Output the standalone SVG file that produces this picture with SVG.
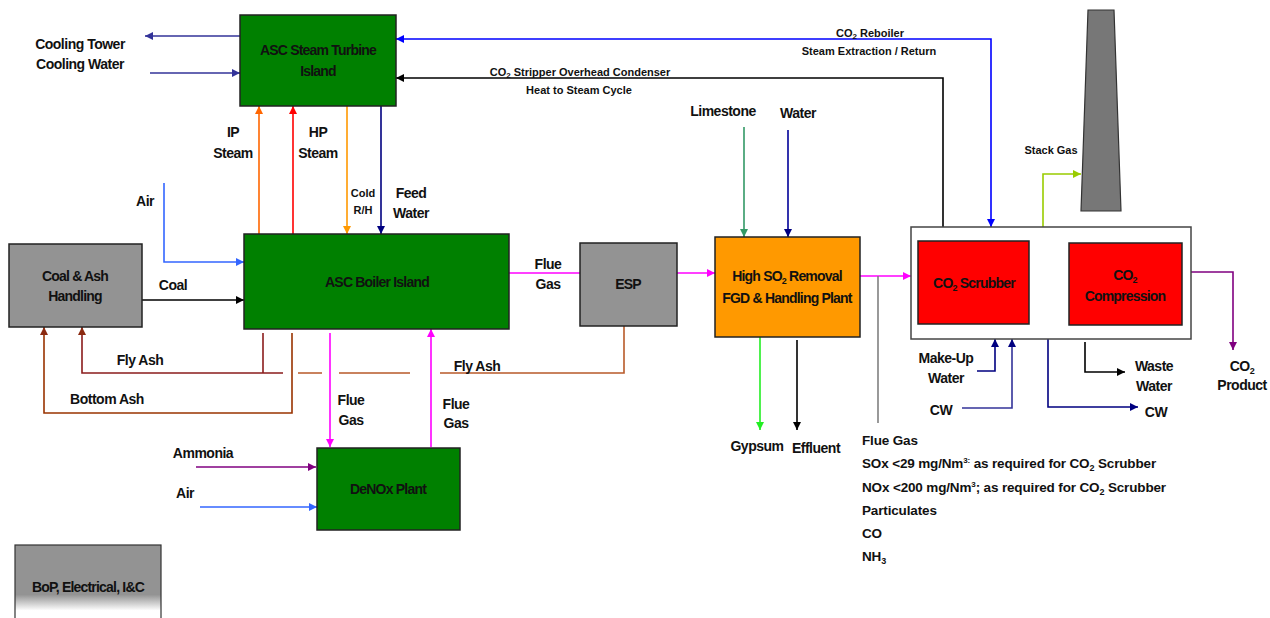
<svg xmlns="http://www.w3.org/2000/svg" width="1270" height="618" viewBox="0 0 1270 618">
<style>
text{font-family:"Liberation Sans",Arial,sans-serif;font-weight:bold;fill:#111;}
.t{font-size:14px;letter-spacing:-0.5px;}
.f{font-size:13.5px;letter-spacing:-0.15px;}
.b{font-size:14px;letter-spacing:-0.8px;text-anchor:middle;}
.s{font-size:11px;}
.m{text-anchor:middle;}
.c{fill:none;stroke-width:1.6;}
.box{stroke:#222;stroke-width:1.5;}
</style>
<defs>
<linearGradient id="bopg" x1="0" y1="0" x2="0" y2="1">
<stop offset="0" stop-color="#939393"/><stop offset="0.62" stop-color="#939393"/><stop offset="0.82" stop-color="#ffffff"/><stop offset="1" stop-color="#ffffff"/>
</linearGradient>
<marker id="a333399" viewBox="0 0 10 10" refX="10" refY="5" markerWidth="9" markerHeight="8" markerUnits="userSpaceOnUse" orient="auto-start-reverse"><path d="M0,0L10,5L0,10z" fill="#333399"/></marker>
<marker id="a0000FF" viewBox="0 0 10 10" refX="10" refY="5" markerWidth="9" markerHeight="8" markerUnits="userSpaceOnUse" orient="auto-start-reverse"><path d="M0,0L10,5L0,10z" fill="#0000FF"/></marker>
<marker id="a000" viewBox="0 0 10 10" refX="10" refY="5" markerWidth="9" markerHeight="8" markerUnits="userSpaceOnUse" orient="auto-start-reverse"><path d="M0,0L10,5L0,10z" fill="#000"/></marker>
<marker id="aFF6600" viewBox="0 0 10 10" refX="10" refY="5" markerWidth="9" markerHeight="8" markerUnits="userSpaceOnUse" orient="auto"><path d="M0,0L10,5L0,10z" fill="#FF6600"/></marker>
<marker id="aFF0000" viewBox="0 0 10 10" refX="10" refY="5" markerWidth="9" markerHeight="8" markerUnits="userSpaceOnUse" orient="auto"><path d="M0,0L10,5L0,10z" fill="#FF0000"/></marker>
<marker id="aFF9900" viewBox="0 0 10 10" refX="10" refY="5" markerWidth="9" markerHeight="8" markerUnits="userSpaceOnUse" orient="auto"><path d="M0,0L10,5L0,10z" fill="#FF9900"/></marker>
<marker id="a000080" viewBox="0 0 10 10" refX="10" refY="5" markerWidth="9" markerHeight="8" markerUnits="userSpaceOnUse" orient="auto"><path d="M0,0L10,5L0,10z" fill="#000080"/></marker>
<marker id="a3366FF" viewBox="0 0 10 10" refX="10" refY="5" markerWidth="9" markerHeight="8" markerUnits="userSpaceOnUse" orient="auto"><path d="M0,0L10,5L0,10z" fill="#3366FF"/></marker>
<marker id="a8B1C1C" viewBox="0 0 10 10" refX="10" refY="5" markerWidth="9" markerHeight="8" markerUnits="userSpaceOnUse" orient="auto"><path d="M0,0L10,5L0,10z" fill="#8B2A10"/></marker>
<marker id="aFF00FF" viewBox="0 0 10 10" refX="10" refY="5" markerWidth="9" markerHeight="8" markerUnits="userSpaceOnUse" orient="auto"><path d="M0,0L10,5L0,10z" fill="#FF00FF"/></marker>
<marker id="a339966" viewBox="0 0 10 10" refX="10" refY="5" markerWidth="9" markerHeight="8" markerUnits="userSpaceOnUse" orient="auto"><path d="M0,0L10,5L0,10z" fill="#339966"/></marker>
<marker id="a00FF00" viewBox="0 0 10 10" refX="10" refY="5" markerWidth="9" markerHeight="8" markerUnits="userSpaceOnUse" orient="auto"><path d="M0,0L10,5L0,10z" fill="#22EE22"/></marker>
<marker id="a99CC00" viewBox="0 0 10 10" refX="10" refY="5" markerWidth="9" markerHeight="8" markerUnits="userSpaceOnUse" orient="auto"><path d="M0,0L10,5L0,10z" fill="#99CC00"/></marker>
<marker id="a800080" viewBox="0 0 10 10" refX="10" refY="5" markerWidth="9" markerHeight="8" markerUnits="userSpaceOnUse" orient="auto"><path d="M0,0L10,5L0,10z" fill="#800080"/></marker>
</defs>
<rect width="1270" height="618" fill="#fff"/>

<g id="connectors">
<path class="c" stroke="#333399" d="M240,36H145" marker-end="url(#a333399)"/>
<path class="c" stroke="#333399" d="M150,73H240" marker-end="url(#a333399)"/>
<path class="c" stroke="#FF6600" d="M259,234V106" marker-end="url(#aFF6600)"/>
<path class="c" stroke="#FF0000" d="M293,234V106" marker-end="url(#aFF0000)"/>
<path class="c" stroke="#FF9900" d="M347,106V234" marker-end="url(#aFF9900)"/>
<path class="c" stroke="#000080" d="M381,106V234" marker-end="url(#a000080)"/>
<path class="c" stroke="#3366FF" d="M164,183V262H244" marker-end="url(#a3366FF)"/>
<path class="c" stroke="#000" d="M139,300H244" marker-end="url(#a000)"/>
<path class="c" stroke="#8B1C1C" d="M263,333V373"/>
<path class="c" stroke="#8B1C1C" d="M283,373H82V327" marker-end="url(#a8B1C1C)"/>
<path class="c" stroke="#993300" d="M292,333V413H44V327" marker-end="url(#a8B1C1C)"/>
<path class="c" stroke="#B85A2A" d="M624,326V373H440M410,373H339M322,373H298"/>
<path class="c" stroke="#FF00FF" d="M330,333V447" marker-end="url(#aFF00FF)"/>
<path class="c" stroke="#FF00FF" d="M431,447V329" marker-end="url(#aFF00FF)"/>
<path class="c" stroke="#800080" d="M196,467H316" marker-end="url(#a800080)"/>
<path class="c" stroke="#3366FF" d="M200,507H317" marker-end="url(#a3366FF)"/>
<path class="c" stroke="#FF00FF" d="M509,273H580"/>
<path class="c" stroke="#FF00FF" d="M677,273H715" marker-end="url(#aFF00FF)"/>
<path class="c" stroke="#339966" d="M744,127V237" marker-end="url(#a339966)"/>
<path class="c" stroke="#000099" d="M788,130V237" marker-end="url(#a000080)"/>
<path class="c" stroke="#22EE22" d="M760,337V430" marker-end="url(#a00FF00)"/>
<path class="c" stroke="#000" d="M797,340V430" marker-end="url(#a000)"/>
<path class="c" stroke="#FF00FF" d="M860,276H911" marker-end="url(#aFF00FF)"/>
<path class="c" stroke="#808080" d="M878,276V423"/>
<path class="c" stroke="#000" d="M1029,277H1068" marker-end="url(#a000)"/>
<path class="c" stroke="#800080" stroke-width="2.2" d="M1191,272H1233V350" marker-end="url(#a800080)"/>
<path class="c" stroke="#000080" d="M977,371H995V339" marker-end="url(#a000080)"/>
<path class="c" stroke="#333399" d="M962,408H1012V339" marker-end="url(#a000080)"/>
<path class="c" stroke="#000080" d="M1048,339V407H1138" marker-end="url(#a000080)"/>
<path class="c" stroke="#000" d="M1085,342V372H1125" marker-end="url(#a000)"/>
<path class="c" stroke="#99CC00" d="M1043,227V174H1081" marker-end="url(#a99CC00)"/>
<path class="c" stroke="#0000FF" d="M396,39H991V227" marker-start="url(#a0000FF)" marker-end="url(#a0000FF)"/>
<path class="c" stroke="#000" stroke-width="1.2" d="M943,227V78H396" marker-end="url(#a000)"/>
</g>

<g id="turbine"><rect class="box" x="240" y="15" width="156" height="91" fill="#008000"/>
<text class="b" x="318" y="55">ASC Steam Turbine</text><text class="b" x="318" y="76">Island</text></g>
<g id="boiler"><rect class="box" x="244" y="234" width="265" height="95" fill="#008000"/>
<text class="b" x="377" y="287">ASC Boiler Island</text></g>
<g id="coal-ash"><rect class="box" x="9" y="244" width="133" height="83" fill="#939393"/>
<text class="b" x="75" y="281">Coal &amp; Ash</text><text class="b" x="75" y="301">Handling</text></g>
<g id="denox"><rect class="box" x="317" y="448" width="143" height="82" fill="#008000"/>
<text class="b" x="388" y="494">DeNOx Plant</text></g>
<g id="bop"><rect x="15" y="545" width="146" height="80" fill="url(#bopg)" stroke="#333" stroke-width="1.2"/>
<text class="b" x="88" y="592">BoP, Electrical, I&amp;C</text></g>
<g id="esp"><rect class="box" x="580" y="243" width="97" height="83" fill="#939393"/>
<text class="b" x="628" y="289">ESP</text></g>
<g id="fgd"><rect class="box" x="715" y="237" width="145" height="100" fill="#FF9900"/>
<text class="b" x="787" y="281">High SO<tspan font-size="9" dy="3">2</tspan><tspan dy="-3"> Removal</tspan></text>
<text class="b" x="787" y="303">FGD &amp; Handling Plant</text></g>
<g id="co2-plant"><rect x="911" y="227" width="280" height="112" fill="#fff" stroke="#444" stroke-width="1.5"/></g>
<g id="scrubber"><rect class="box" x="918" y="241" width="111" height="83" fill="#FF0000"/>
<text class="b" x="974" y="288">CO<tspan font-size="9" dy="3">2</tspan><tspan dy="-3"> Scrubber</tspan></text></g>
<g id="compression"><rect class="box" x="1069" y="243" width="113" height="82" fill="#FF0000"/>
<text class="b" x="1125" y="280">CO<tspan font-size="9" dy="3">2</tspan></text><text class="b" x="1125" y="301">Compression</text></g>
<g id="stack"><polygon points="1088,10 1114,10 1121,211 1081,211" fill="#777" stroke="#333" stroke-width="1.2"/></g>

<g id="labels">
<text class="t m" x="80" y="49">Cooling Tower</text>
<text class="t m" x="80" y="69">Cooling Water</text>
<text class="t m" x="233" y="137">IP</text>
<text class="t m" x="233" y="158">Steam</text>
<text class="t m" x="318" y="137">HP</text>
<text class="t m" x="318" y="158">Steam</text>
<text class="s m" x="363" y="197">Cold</text>
<text class="s m" x="363" y="214">R/H</text>
<text class="t m" x="411" y="198">Feed</text>
<text class="t m" x="411" y="218">Water</text>
<text class="t m" x="145" y="206">Air</text>
<text class="t m" x="173" y="290">Coal</text>
<text class="t m" x="140" y="365">Fly Ash</text>
<text class="t m" x="107" y="404">Bottom Ash</text>
<text class="t m" x="351" y="405">Flue</text>
<text class="t m" x="351" y="425">Gas</text>
<text class="t m" x="456" y="409">Flue</text>
<text class="t m" x="456" y="428">Gas</text>
<text class="t m" x="477" y="371">Fly Ash</text>
<text class="t m" x="203" y="458">Ammonia</text>
<text class="t m" x="185" y="498">Air</text>
<text class="t m" x="548" y="269">Flue</text>
<text class="t m" x="548" y="289">Gas</text>
<text class="t m" x="723" y="116">Limestone</text>
<text class="t m" x="798" y="118">Water</text>
<text class="t m" x="757" y="451">Gypsum</text>
<text class="t m" x="816" y="453">Effluent</text>
<text class="s m" x="870" y="37">CO<tspan font-size="8" dy="2">2</tspan><tspan dy="-2"> Reboiler</tspan></text>
<text class="s m" x="869" y="55">Steam Extraction / Return</text>
<text class="s m" x="580" y="76">CO<tspan font-size="8" dy="2">2</tspan><tspan dy="-2"> Stripper Overhead Condenser</tspan></text>
<text class="s m" x="579" y="94">Heat to Steam Cycle</text>
<text class="s m" x="1051" y="154">Stack Gas</text>
<text class="t m" x="946" y="363">Make-Up</text>
<text class="t m" x="946" y="383">Water</text>
<text class="t m" x="941" y="415">CW</text>
<text class="t m" x="1156" y="417">CW</text>
<text class="t m" x="1154" y="371">Waste</text>
<text class="t m" x="1154" y="391">Water</text>
<text class="t m" x="1242" y="371">CO<tspan font-size="9" dy="3">2</tspan></text>
<text class="t m" x="1242" y="390">Product</text>
<text class="f" x="862" y="445">Flue Gas</text>
<text class="f" x="862" y="468">SOx &lt;29 mg/Nm<tspan font-size="8" dy="-5">3:</tspan><tspan dy="5"> as required for CO</tspan><tspan font-size="9" dy="3">2</tspan><tspan dy="-3"> Scrubber</tspan></text>
<text class="f" x="862" y="492">NOx &lt;200 mg/Nm<tspan font-size="8" dy="-5">3</tspan><tspan dy="5">; as required for CO</tspan><tspan font-size="9" dy="3">2</tspan><tspan dy="-3"> Scrubber</tspan></text>
<text class="f" x="862" y="515">Particulates</text>
<text class="f" x="862" y="538">CO</text>
<text class="f" x="862" y="561">NH<tspan font-size="9" dy="3">3</tspan></text>
</g>
</svg>
